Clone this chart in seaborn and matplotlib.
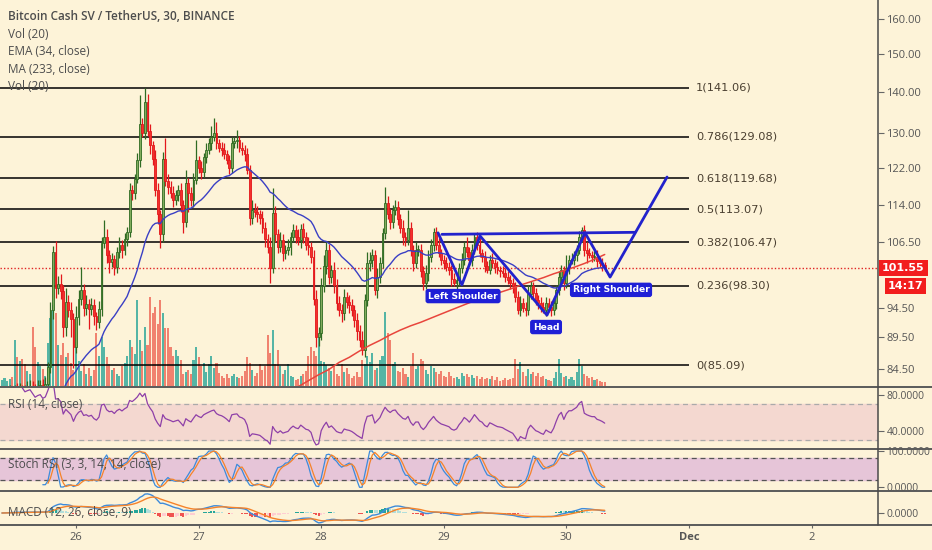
import numpy as np
import pandas as pd
import matplotlib
matplotlib.use('Agg')
import matplotlib.pyplot as plt
import matplotlib.dates as mdates
from matplotlib.lines import Line2D
from matplotlib.ticker import FixedLocator, NullLocator, FuncFormatter
import seaborn as sns

# --- data (BSV/USDT, 30 min candles) ---
first_open = 79.6
closes = [79.8, 80.3, 80.9, 81.2, 80.9, 81.4, 81.1, 81.6, 81.3, 81.0, 81.5, 81.9, 81.6, 81.3, 81.8, 82.1, 81.8, 82.2,
          84.8, 94.0, 104.6, 98.0, 98.6, 97.4, 91.2, 95.5, 94.0, 92.5, 88.0, 92.8,
          96.0, 97.6, 94.5, 95.2, 94.2, 95.0, 93.0, 92.0, 94.2, 106.3, 107.5, 104.0,
          102.7, 103.2, 101.8, 104.5, 106.0, 105.0, 107.0, 108.5, 117.0, 116.4, 119.5, 123.7,
          132.0, 130.0, 137.5, 130.5, 127.0, 124.0, 117.0, 112.0, 108.0, 124.0, 119.0, 117.8,
          116.5, 115.0, 116.0, 117.0, 114.0, 110.5, 118.6, 116.5, 115.0, 119.3, 123.7, 122.0,
          121.0, 124.3, 126.0, 127.5, 129.0, 130.0, 127.5, 126.5, 126.0, 125.0, 123.7, 122.0,
          127.5, 128.0, 128.3, 126.5, 126.0, 125.0, 121.5, 111.3, 112.9, 112.5, 112.0, 111.3,
          109.3, 107.0, 105.5, 101.6, 112.2, 108.0, 105.5, 106.9, 104.4, 105.0, 105.5, 107.5,
          108.9, 107.5, 106.9, 109.0, 107.5, 106.0, 105.5, 103.7, 96.0, 89.6, 90.2, 98.2,
          102.0, 105.0, 99.9, 101.2, 98.5, 95.3, 94.1, 93.6, 96.3, 95.5, 95.0, 94.0,
          92.4, 90.5, 89.0, 87.5, 95.8, 102.5, 103.0, 104.0, 97.6, 100.0, 102.5, 108.3,
          114.4, 112.0, 110.5, 112.9, 113.5, 111.0, 109.3, 107.5, 106.9, 109.3, 105.0, 102.5,
          105.0, 105.0, 101.0, 98.8, 100.7, 103.7, 106.0, 108.5, 106.0, 104.4, 103.1, 102.5,
          101.8, 101.2, 99.5, 98.8, 99.4, 101.5, 103.1, 105.5, 104.5, 103.1, 105.0, 107.5,
          106.0, 104.4, 103.7, 102.0, 101.2, 103.1, 102.5, 101.8, 101.2, 101.0, 100.7, 100.0,
          99.4, 98.8, 98.2, 96.4, 94.1, 95.3, 94.5, 94.1, 96.9, 98.2, 97.0, 95.8,
          95.3, 94.6, 94.1, 95.3, 94.6, 94.1, 95.3, 97.5, 99.9, 101.2, 98.8, 101.5,
          103.1, 103.1, 104.0, 105.0, 107.5, 108.9, 105.0, 104.4, 104.0, 103.7, 103.7, 102.8, 102.5, 102.1, 101.55]
wick_hi = [0.6, 0.8, 0.5, 0.9, 0.7, 0.6, 1.0, 0.8, 0.5, 0.7, 1.2, 0.9, 0.8, 0.6, 1.0, 0.7, 0.9, 1.1,
           0.8, 1.5, 1.2, 2.0, 1.5, 1.8, 1.0, 2.5, 1.2, 1.5, 1.0, 2.0,
           1.5, 4.2, 1.0, 1.5, 0.8, 1.2, 1.0, 0.8, 1.5, 1.2, 3.4, 1.5,
           1.0, 1.2, 0.8, 1.0, 1.5, 0.8, 1.2, 1.0, 1.5, 1.2, 1.0, 1.5,
           7.3, 1.5, 3.5, 2.0, 1.5, 1.0, 2.0, 1.5, 1.0, 1.5, 4.8, 1.5,
           1.2, 1.5, 1.0, 1.2, 1.5, 1.0, 2.9, 1.0, 1.2, 1.5, 4.6, 1.0,
           1.5, 1.0, 1.5, 1.2, 2.5, 3.6, 2.6, 1.0, 1.2, 1.5, 1.0, 1.2,
           1.5, 1.0, 2.4, 1.0, 1.2, 1.0, 1.5, 1.0, 2.0, 1.5, 1.2, 1.0,
           1.5, 1.2, 1.0, 2.0, 5.3, 1.5, 1.0, 1.5, 1.2, 1.0, 1.5, 1.0,
           1.2, 1.0, 1.5, 1.0, 1.2, 1.0, 1.5, 1.0, 1.2, 1.5, 1.0, 1.5,
           2.0, 1.5, 1.2, 1.0, 1.5, 1.0, 1.2, 1.0, 1.5, 1.0, 1.2, 1.0,
           1.0, 1.2, 1.0, 1.5, 1.0, 2.0, 1.5, 1.2, 1.0, 1.5, 1.2, 1.0,
           3.3, 1.5, 1.2, 1.0, 1.5, 1.2, 1.0, 1.5, 1.0, 3.6, 1.2, 1.0,
           1.5, 1.0, 1.2, 1.0, 1.5, 1.2, 1.0, 0.8, 1.0, 1.2, 0.8, 1.0,
           1.2, 0.8, 1.0, 1.2, 0.8, 1.0, 1.2, 1.0, 2.0, 1.0, 1.2, 0.8,
           1.0, 1.2, 0.8, 1.0, 0.8, 1.0, 1.2, 0.8, 1.0, 0.8, 1.0, 0.8,
           1.0, 0.8, 1.0, 0.8, 1.0, 1.2, 0.8, 1.0, 1.5, 1.0, 0.8, 1.0,
           0.8, 1.0, 0.8, 1.0, 0.8, 1.0, 0.8, 1.0, 1.2, 1.0, 0.8, 2.5,
           1.0, 1.2, 0.8, 1.0, 1.2, 0.6, 1.0, 1.5, 1.0, 0.8, 1.0, 1.2, 0.8, 1.0, 0.6]
wick_lo = [0.7, 0.5, 0.9, 0.6, 0.8, 1.0, 0.6, 0.7, 0.9, 0.5, 0.8, 0.7, 1.0, 0.6, 0.8, 0.9, 0.7, 0.6,
           0.5, 1.0, 1.5, 1.8, 1.2, 1.5, 1.6, 1.5, 1.2, 3.0, 3.3, 1.0,
           1.2, 1.0, 1.5, 1.2, 3.3, 1.0, 1.5, 1.3, 1.0, 1.2, 1.0, 1.5,
           2.0, 1.0, 1.5, 1.2, 1.0, 1.5, 1.0, 1.2, 1.0, 1.5, 1.2, 1.0,
           1.5, 1.0, 1.5, 1.2, 2.0, 1.5, 1.2, 2.0, 2.6, 1.5, 1.0, 1.5,
           1.2, 1.5, 1.0, 1.2, 1.5, 2.2, 1.0, 4.0, 1.2, 1.5, 1.0, 1.2,
           1.5, 1.0, 1.2, 1.0, 1.5, 1.0, 1.2, 1.0, 1.5, 1.2, 1.0, 1.5,
           1.2, 1.0, 1.5, 1.0, 1.2, 1.5, 1.0, 1.5, 1.2, 1.0, 1.5, 1.2,
           1.0, 1.5, 1.2, 2.8, 1.0, 1.5, 1.2, 1.0, 1.5, 1.2, 1.0, 1.5,
           1.0, 1.2, 1.0, 1.5, 1.2, 1.0, 1.5, 1.2, 1.0, 1.6, 1.5, 1.2,
           1.0, 1.5, 1.2, 1.0, 1.5, 1.2, 1.0, 1.5, 1.2, 1.0, 1.5, 1.0,
           1.2, 1.5, 1.0, 0.8, 1.2, 1.0, 1.5, 1.2, 1.0, 1.5, 1.2, 1.0,
           1.2, 1.0, 1.5, 1.2, 1.0, 1.2, 1.0, 1.5, 1.2, 1.0, 1.2, 1.5,
           1.0, 1.2, 1.0, 1.2, 1.0, 1.5, 1.0, 1.2, 1.0, 0.8, 1.0, 1.2,
           0.8, 1.0, 1.2, 0.6, 1.0, 1.2, 0.8, 1.0, 0.8, 1.0, 1.2, 0.8,
           1.0, 0.8, 1.0, 1.2, 0.5, 0.8, 1.0, 1.2, 0.8, 1.0, 0.8, 1.0,
           0.8, 1.0, 1.2, 1.0, 0.7, 1.0, 0.8, 1.0, 0.8, 1.0, 1.2, 0.8,
           1.0, 0.8, 0.5, 1.0, 0.8, 1.0, 0.8, 1.0, 0.8, 1.0, 1.2, 0.8,
           1.0, 0.8, 1.0, 1.2, 0.8, 1.0, 1.2, 1.9, 0.6, 1.0, 0.8, 1.0, 0.8, 1.0, 0.6]
volume = [6, 8, 5, 7, 9, 46, 29, 25, 27, 22, 15, 12, 59, 39, 24, 20, 17, 10,
          43, 68, 81, 73, 41, 31, 43, 29, 33, 23, 16, 39,
          25, 15, 22, 12, 18, 10, 16, 53, 30, 49, 39, 29,
          22, 16, 18, 12, 10, 20, 23, 30, 46, 39, 32, 86,
          46, 35, 59, 41, 89, 73, 79, 62, 86, 73, 58, 58,
          39, 30, 36, 30, 26, 12, 14, 16, 12, 26, 39, 29,
          20, 23, 14, 22, 30, 18, 23, 13, 10, 8, 12, 8,
          10, 12, 9, 8, 10, 15, 29, 23, 16, 10, 13, 22,
          16, 20, 51, 33, 56, 22, 36, 20, 12, 16, 22, 10,
          9, 6, 7, 10, 12, 15, 30, 39, 35, 30, 49, 25,
          24, 21, 18, 15, 20, 12, 10, 22, 14, 18, 12, 8,
          10, 14, 9, 26, 22, 30, 24, 33, 16, 18, 26, 30,
          74, 53, 46, 22, 24, 15, 14, 18, 12, 9, 20, 33,
          17, 20, 27, 25, 16, 12, 20, 18, 14, 12, 15, 10,
          9, 14, 10, 8, 9, 7, 13, 10, 12, 9, 11, 8,
          10, 7, 9, 7, 8, 7, 10, 6, 9, 5, 6, 8,
          6, 7, 8, 27, 17, 24, 14, 10, 17, 12, 14, 10,
          13, 9, 10, 7, 6, 5, 8, 14, 27, 13, 9, 10,
          7, 9, 6, 14, 27, 20, 12, 10, 8, 9, 6, 7, 5, 4, 4]
ema_seed = 60.0
ma233_idx = list(range(116, 237, 4))
ma233_vals = [81.8, 82.7, 83.6, 84.4, 85.5, 86.3, 87.3, 88.2, 89.0, 89.9, 90.7, 91.4, 92.0, 92.7, 93.4, 94.1,
              94.8, 95.5, 96.1, 96.7, 97.3, 97.9, 98.6, 99.2, 99.8, 100.5, 101.1, 101.7, 102.4, 103.2, 104.1]

fib_levels = ['1', '0.786', '0.618', '0.5', '0.382', '0.236', '0']
fib_prices = [141.06, 129.08, 119.68, 113.07, 106.47, 98.30, 85.09]
price_ticks = [160, 150, 140, 130, 122, 114, 106.5, 94.5, 89.5, 84.5]
last_price = 101.55
countdown = '14:17'

pattern_times = ['2018-11-28 22:52', '2018-11-29 03:33', '2018-11-29 07:05', '2018-11-29 20:12',
                 '2018-11-30 03:39', '2018-11-30 08:33', '2018-11-30 19:42']
pattern_prices = [108.3, 98.5, 107.7, 93.2, 108.3, 99.9, 119.9]
neck_times = ['2018-11-28 23:38', '2018-11-30 13:26']
neck_prices = [108.0, 108.4]
shoulder_labels = ['Left Shoulder', 'Head', 'Right Shoulder']
shoulder_times = ['2018-11-29 03:46', '2018-11-29 20:01', '2018-11-30 08:44']
shoulder_prices = [96.5, 91.2, 97.6]

date_ticks = ['2018-11-26', '2018-11-27', '2018-11-28', '2018-11-29', '2018-11-30', '2018-12-01', '2018-12-02']
date_labels = ['26', '27', '28', '29', '30', 'Dec', '2']

# --- style ---
bg = '#fdf3d8'
txt = '#4d4d4d'
sns.set_theme(style='white', rc={'axes.facecolor': bg, 'figure.facecolor': bg, 'savefig.facecolor': bg})
plt.rcParams['font.family'] = ['Open Sans', 'DejaVu Sans']

times = pd.date_range('2018-11-25 09:30', periods=len(closes), freq='30min')
t = mdates.date2num(times)
c = np.array(closes)
o = np.array([first_open] + closes[:-1])
hi = np.maximum(o, c) + np.array(wick_hi)
lo = np.minimum(o, c) - np.array(wick_lo)
up = c >= o
cs = pd.Series(c)

# indicators
ema34 = pd.Series([ema_seed] + closes).ewm(span=34, adjust=False).mean().values[1:]
delta = cs.diff()
gain = delta.clip(lower=0).ewm(alpha=1 / 14, adjust=False).mean()
loss = (-delta.clip(upper=0)).ewm(alpha=1 / 14, adjust=False).mean()
rsi = 100 - 100 / (1 + gain / loss)
rlo, rhi = rsi.rolling(14).min(), rsi.rolling(14).max()
stoch = 100 * (rsi - rlo) / (rhi - rlo)
k_line = stoch.rolling(3).mean()
d_line = k_line.rolling(3).mean()
macd = cs.ewm(span=12, adjust=False).mean() - cs.ewm(span=26, adjust=False).mean()
signal = macd.ewm(span=9, adjust=False).mean()
hist = macd - signal

W, H = 932, 550
px_day = 122.6
day26 = mdates.date2num(pd.Timestamp('2018-11-26'))
x_left = day26 - 76 / px_day
x_right = day26 + (878 - 76) / px_day
dec1 = mdates.date2num(pd.Timestamp('2018-12-01'))

fig = plt.figure(figsize=(W / 100, H / 100), dpi=100)


def panel(top, bottom, lsize=8):
    a = fig.add_axes([0, 1 - bottom / H, 878 / W, (bottom - top) / H])
    a.set_xlim(x_left, x_right)
    for s in a.spines.values():
        s.set_visible(False)
    a.tick_params(axis='x', bottom=False, labelbottom=False)
    a.tick_params(axis='y', left=False, labelleft=False, right=True, labelright=True,
                  length=4, width=0.8, color='#666', labelsize=lsize, labelcolor='#555', pad=2)
    a.set_xlabel('')
    a.set_ylabel('')
    return a


# volume (behind the candles)
axv = panel(0, 386)
axv.bar(t, volume, width=0.8 / 48, color=np.where(up, '#55b5a5', '#f0826f'), linewidth=0)
axv.set_ylim(0, max(volume) * 4.35)
axv.set_axis_off()

ax = panel(0, 386)
ax.set_zorder(2)
ax.patch.set_visible(False)
ax.set_yscale('log')
ax.set_ylim(81.9, 165.6)
ax.yaxis.set_major_locator(FixedLocator(price_ticks))
ax.yaxis.set_minor_locator(NullLocator())
ax.yaxis.set_major_formatter(FuncFormatter(lambda v, _: f'{v:.2f}'))

# fib levels
ax.hlines(fib_prices, x_left, dec1, colors='black', linewidth=1.1, zorder=1)
for lvl, p in zip(fib_levels, fib_prices):
    ax.text(dec1 + 7 / px_day, p, f'{lvl}({p:.2f})', va='center', ha='left',
            fontsize=8.2, color='#4a3f30', family='DejaVu Sans')

# candles
edge = np.where(up, '#2f6b22', '#e3171b')
ax.vlines(t, lo, hi, colors=edge, linewidth=0.9, zorder=3)
ax.bar(t, np.maximum(np.abs(c - o), 0.15), bottom=np.minimum(o, c), width=0.72 / 48,
       color=np.where(up, '#82ad5e', '#f3312c'), edgecolor=edge, linewidth=0.6, zorder=4)

sns.lineplot(x=t, y=ema34, ax=ax, color='#3a3fc4', linewidth=1.0, sort=False, estimator=None, zorder=5)
sns.lineplot(x=t[ma233_idx], y=ma233_vals, ax=ax, color='#e8453c', linewidth=1.1, sort=False,
             estimator=None, zorder=5)

# last price
ax.axhline(last_price, color='#e02424', linestyle=(0, (1, 1.5)), linewidth=1, zorder=2)
ax.annotate(f'{last_price:.2f}', xy=(1, last_price), xycoords=('axes fraction', 'data'),
            xytext=(3, 0), textcoords='offset points', ha='left', va='center', color='white',
            fontsize=8, fontweight='bold', family='DejaVu Sans', annotation_clip=False,
            bbox=dict(boxstyle='square,pad=0.25', fc='#f21d1d', ec='none'))
ax.annotate(countdown, xy=(1, last_price), xycoords=('axes fraction', 'data'),
            xytext=(7, -13), textcoords='offset points', ha='left', va='center', color='white',
            fontsize=8, fontweight='bold', family='DejaVu Sans', annotation_clip=False,
            bbox=dict(boxstyle='square,pad=0.25', fc='#f21d1d', ec='none'))

# head and shoulders drawing
ax.plot(mdates.date2num(pd.to_datetime(pattern_times)), pattern_prices, color='#2222cc', linewidth=2, zorder=6)
ax.plot(mdates.date2num(pd.to_datetime(neck_times)), neck_prices, color='#2222cc', linewidth=2, zorder=6)
for lab, tm, p in zip(shoulder_labels, shoulder_times, shoulder_prices):
    ax.text(mdates.date2num(pd.Timestamp(tm)), p, lab, ha='center', va='center', color='white',
            fontsize=6.6, fontweight='bold', family='DejaVu Sans', zorder=7,
            bbox=dict(boxstyle='round,pad=0.22', fc='#1f1fd6', ec='#1f1fd6'))

# RSI
axr = panel(388, 448, lsize=7.4)
axr.set_ylim(21.1, 87.8)
axr.axhspan(30, 70, color='#f4d8d0', zorder=0)
axr.axhline(70, color='#aaaaaa', linestyle=(0, (4, 3)), linewidth=0.9)
axr.axhline(30, color='#aaaaaa', linestyle=(0, (4, 3)), linewidth=0.9)
sns.lineplot(x=t, y=rsi.values, ax=axr, color='#8e3fa8', linewidth=0.9, sort=False, estimator=None)
axr.set_yticks([80, 40])
axr.set_yticklabels(['80.0000', '40.0000'])

# Stoch RSI
axs = panel(449, 490, lsize=7.4)
axs.set_ylim(-7.5, 105.6)
axs.axhspan(20, 80, color='#e6c5d8', zorder=0)
axs.axhline(80, color='#555555', linestyle=(0, (4, 3)), linewidth=0.9)
axs.axhline(20, color='#555555', linestyle=(0, (4, 3)), linewidth=0.9)
sns.lineplot(x=t, y=k_line.values, ax=axs, color='#3d8bdb', linewidth=0.9, sort=False, estimator=None)
sns.lineplot(x=t, y=d_line.values, ax=axs, color='#f5832a', linewidth=0.9, sort=False, estimator=None)
axs.set_yticks([100, 0])
axs.set_yticklabels(['100.0000', '0.0000'])

# MACD
axm = panel(491, 524, lsize=7.4)
top = max(macd.max(), signal.max()) * 1.15
axm.set_ylim(-top * 0.5, top)
hcol = []
for i, h in enumerate(hist.values):
    prev = hist.values[i - 1] if i else h
    if h >= 0:
        hcol.append('#26a69a' if h >= prev else '#b2dfdb')
    else:
        hcol.append('#ef5350' if h < prev else '#ffcdd2')
axm.bar(t, hist.values, width=0.8 / 48, color=hcol, linewidth=0)
sns.lineplot(x=t, y=macd.values, ax=axm, color='#3d8bdb', linewidth=1.0, sort=False, estimator=None)
sns.lineplot(x=t, y=signal.values, ax=axm, color='#f5832a', linewidth=1.0, sort=False, estimator=None)
axm.set_yticks([0])
axm.set_yticklabels(['0.0000'])
axm.set_xticks(mdates.date2num(pd.to_datetime(date_ticks)))
axm.set_xticklabels(date_labels)
axm.tick_params(axis='x', bottom=True, labelbottom=True, length=3, width=0.8, color='#666',
                labelsize=8, labelcolor='#555', pad=3)
for lbl in axm.get_xticklabels():
    if lbl.get_text() == 'Dec':
        lbl.set_fontweight('bold')

# separators and price-scale border
for yy in [387, 448.5, 490.5, 524.5]:
    fig.add_artist(Line2D([0, 1], [1 - yy / H] * 2, color='#5a5a5a', linewidth=1.4))
fig.add_artist(Line2D([878 / W] * 2, [1 - 524.5 / H, 1], color='#4a4a4a', linewidth=1.1))

# legends
legend_lines = ['Bitcoin Cash SV / TetherUS, 30, BINANCE', 'Vol (20)', 'EMA (34, close)', 'MA (233, close)', 'Vol (20)']
for j, s in enumerate(legend_lines):
    fig.text(8 / W, 1 - (17 + 17.5 * j) / H, s, va='center', ha='left', fontsize=8.5, color=txt,
             fontweight='semibold' if j == 0 else 'normal')
fig.text(8 / W, 1 - 404 / H, 'RSI (14, close)', va='center', ha='left', fontsize=8.5, color=txt)
fig.text(8 / W, 1 - 465 / H, 'Stoch RSI (3, 3, 14, 14, close)', va='center', ha='left', fontsize=8.5, color=txt)
fig.text(8 / W, 1 - 513 / H, 'MACD (12, 26, close, 9)', va='center', ha='left', fontsize=8.5, color=txt)

fig.savefig('out.png', dpi=100)
